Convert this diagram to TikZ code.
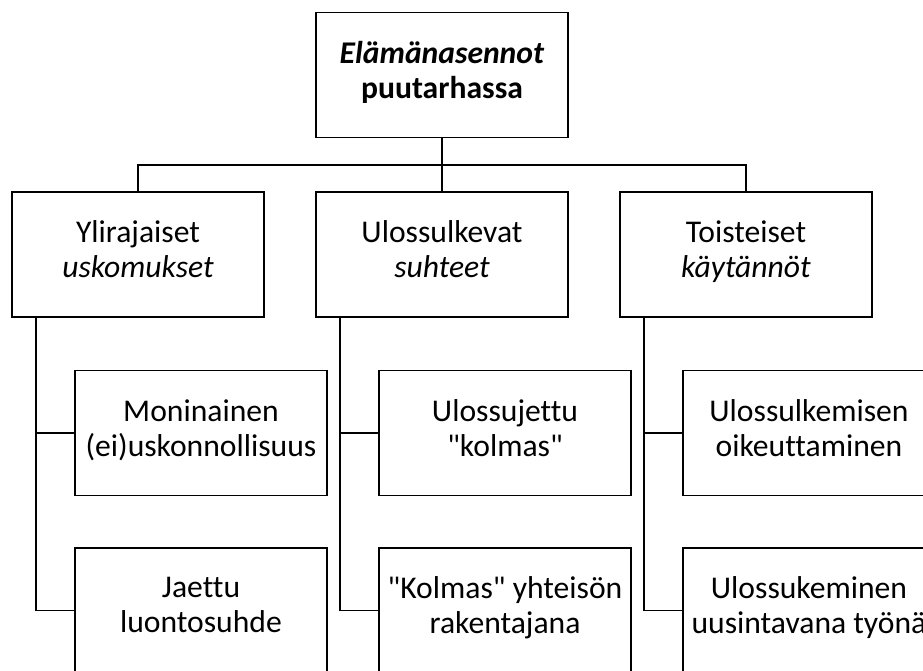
\documentclass[tikz,border=0pt]{standalone}
\usepackage{fontspec}
\setmainfont{Carlito}[Ligatures={TeXOff,CommonOff}]
\begin{document}
\begin{tikzpicture}[x=0.02cm,y=-0.02cm,
  box/.style={draw,line width=1.1pt,minimum width=5.04cm,minimum height=2.5cm,align=center,inner sep=0pt,
    font=\fontsize{18}{20}\selectfont,execute at begin node=\strut,execute at end node=\strut},
  link/.style={draw,line width=1.1pt}]
\useasboundingbox (0,0) rectangle (923,670);
\clip (0,0) rectangle (923,670);

\node[box] (top) at (442,75) {\textbf{\textit{Elämänasennot}}\\\textbf{puutarhassa}};

\node[box] (b1) at (138,254.5) {Ylirajaiset\\\textit{uskomukset}};
\node[box] (b2) at (442,254.5) {Ulossulkevat\\\textit{suhteet}};
\node[box] (b3) at (746,254.5) {Toisteiset\\\textit{käytännöt}};

\node[box] (m1) at (201,433) {Moninainen\\(ei)uskonnollisuus};
\node[box] (n1) at (201,610.5) {Jaettu\\luontosuhde};
\node[box] (m2) at (505,433) {Ulossujettu\\"kolmas"};
\node[box] (n2) at (505,610.5) {"Kolmas" yhteisön\\rakentajana};
\node[box] (m3) at (809,433) {Ulossulkemisen\\oikeuttaminen};
\node[box] (n3) at (809,610.5) {Ulossukeminen\\uusintavana työnä};

\coordinate (bus) at (442,165);
\path[link] (top) -- (bus);
\path[link] (bus) -| (b1);
\path[link] (bus) -| (b2);
\path[link] (bus) -| (b3);

\path[link] ([xshift=0.5cm]b1.south west) |- (m1);
\path[link] ([xshift=0.5cm]b1.south west) |- (n1);
\path[link] ([xshift=0.5cm]b2.south west) |- (m2);
\path[link] ([xshift=0.5cm]b2.south west) |- (n2);
\path[link] ([xshift=0.5cm]b3.south west) |- (m3);
\path[link] ([xshift=0.5cm]b3.south west) |- (n3);
\end{tikzpicture}
\end{document}
